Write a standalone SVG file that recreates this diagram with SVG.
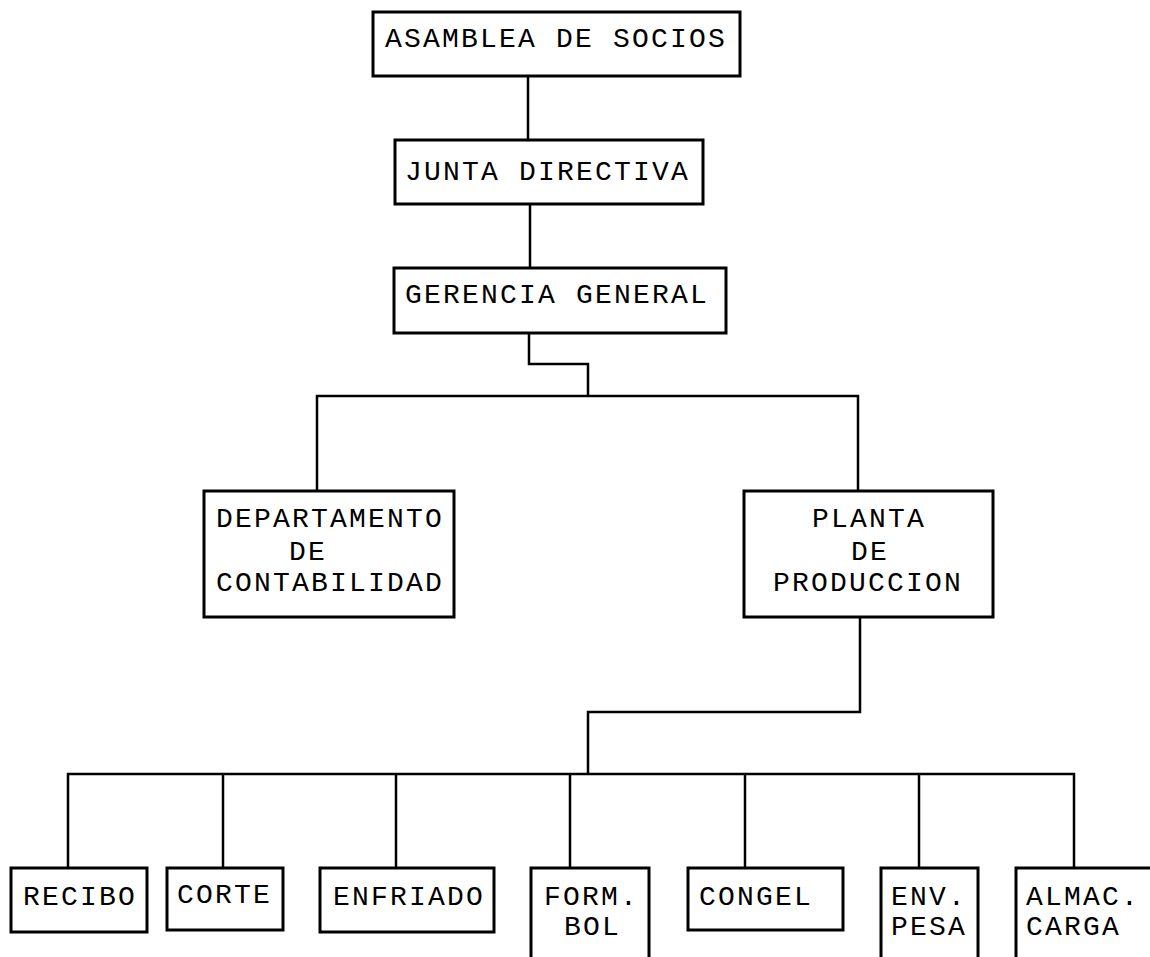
<svg xmlns="http://www.w3.org/2000/svg" width="1150" height="957" viewBox="0 0 1150 957">
<style>
.box{fill:#fff;stroke:#000;stroke-width:3}
.ln{fill:none;stroke:#000;stroke-width:2.5;stroke-linejoin:miter}
text{font-family:"Liberation Mono","DejaVu Sans Mono",monospace;font-size:28px;letter-spacing:2.2px;fill:#000}
</style>
<rect width="1150" height="957" fill="#fff"/>
<g id="connectors">
<path class="ln" d="M528 76V140"/>
<path class="ln" d="M530 204V268"/>
<path class="ln" d="M529 333V364H588V396"/>
<path class="ln" d="M317 491V396H858V491"/>
<path class="ln" d="M860 618V712H588V774"/>
<path class="ln" d="M68 868V774H1074V868"/>
<path class="ln" d="M223 774V868"/>
<path class="ln" d="M396 774V868"/>
<path class="ln" d="M570 774V868"/>
<path class="ln" d="M745 774V868"/>
<path class="ln" d="M919 774V868"/>
</g>
<g id="asamblea"><rect class="box" x="373" y="12" width="367" height="64"/><text x="385" y="47">ASAMBLEA DE SOCIOS</text></g>
<g id="junta"><rect class="box" x="395" y="140" width="308" height="64"/><text x="405" y="180">JUNTA DIRECTIVA</text></g>
<g id="gerencia"><rect class="box" x="394" y="268" width="332" height="65"/><text x="405" y="303">GERENCIA GENERAL</text></g>
<g id="contabilidad"><rect class="box" x="204" y="491" width="250" height="126"/><text x="216" y="527">DEPARTAMENTO</text><text x="289" y="560">DE</text><text x="216" y="591">CONTABILIDAD</text></g>
<g id="planta"><rect class="box" x="744" y="491" width="249" height="126"/><text x="812" y="527">PLANTA</text><text x="851" y="560">DE</text><text x="773" y="591">PRODUCCION</text></g>
<g id="recibo"><rect class="box" x="11" y="868" width="136" height="64"/><text x="23" y="905">RECIBO</text></g>
<g id="corte"><rect class="box" x="167" y="868" width="116" height="62"/><text x="177" y="903">CORTE</text></g>
<g id="enfriado"><rect class="box" x="320" y="868" width="174" height="64"/><text x="333" y="905">ENFRIADO</text></g>
<g id="formbol"><rect class="box" x="531" y="868" width="118" height="100"/><text x="544" y="905">FORM.</text><text x="564" y="935">BOL</text></g>
<g id="congel"><rect class="box" x="688" y="868" width="155" height="62"/><text x="699" y="905">CONGEL</text></g>
<g id="envpesa"><rect class="box" x="881" y="868" width="97" height="100"/><text x="891" y="905">ENV.</text><text x="891" y="935">PESA</text></g>
<g id="almac"><rect class="box" x="1016" y="868" width="150" height="100"/><text x="1026" y="905">ALMAC.</text><text x="1026" y="935">CARGA</text></g>
</svg>
